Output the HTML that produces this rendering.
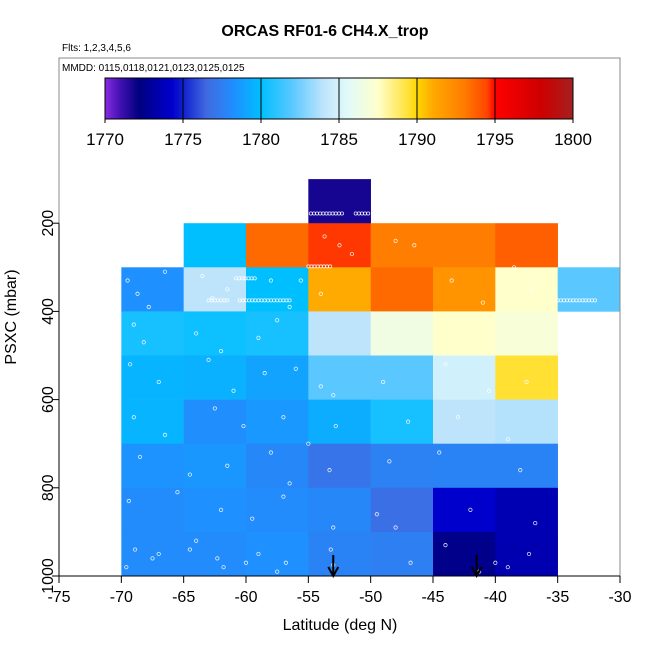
<!DOCTYPE html>
<html><head><meta charset="utf-8"><style>
body{margin:0;background:#fff;}
svg{display:block;font-family:"Liberation Sans",Arial,sans-serif;}
</style></head><body>
<svg id="chart" width="650" height="650" viewBox="0 0 650 650" xmlns="http://www.w3.org/2000/svg">
<text x="325" y="36" text-anchor="middle" font-size="16" font-weight="bold">ORCAS RF01-6 CH4.X_trop</text>
<text x="62" y="51" font-size="10">Flts: 1,2,3,4,5,6</text>
<g id="cells"></g>
<g id="pts"></g>
<rect x="59" y="58" width="561" height="518" fill="none" stroke="#888" stroke-width="1"/>
<text x="62" y="71" font-size="10">MMDD: 0115,0118,0121,0123,0125,0125</text>
<g id="cbar"></g>
<g id="axes"></g>
<text x="340" y="630" text-anchor="middle" font-size="16">Latitude (deg N)</text>
<text transform="translate(16,317) rotate(-90)" text-anchor="middle" font-size="16">PSXC (mbar)</text>
</svg>
<script>
const latBins=[-70,-65,-60,-55,-50,-45,-40,-35];
const presBins=[100,200,300,400,500,600,700,800,900];
// values[row][col], rows follow presBins, cols follow latBins; null = no data
const row100=[null,null,null,1771.8,null,null,null,null];
const row200=[null,1780,1793.5,1794.6,1793,1793,1793.8,null];
const row300=[1778.3,1784,1780,1791,1793.5,1792,1787.5,1782];
const row400=[1780.5,1780.3,1780.5,1784,1786.5,1787.5,1787,null];
const row500=[1779.6,1779.5,1779,1782,1782,1784.8,1789.5,null];
const row600=[1779.6,1778.2,1778.6,1779.3,1780.5,1784,1783.8,null];
const row700=[1778.4,1778.5,1777.9,1777,1777.6,1777.7,1777.7,null];
const row800=[1778.1,1778.3,1778.1,1777.9,1776.8,1774.3,1773.6,null];
const row900=[1778.1,1778.1,1778.3,1777.7,1777.5,1772.5,1773.5,null];
const values=[row100,row200,row300,row400,row500,row600,row700,row800,row900];
const xTicks=[-75,-70,-65,-60,-55,-50,-45,-40,-35,-30];
const yTicks=[200,400,600,800,1000];
const cbTicks=[1770,1775,1780,1785,1790,1795,1800];
const arrowLats=[-53,-41.5];
const ptLat=[-69.5,-68.7,-67.8,-69,-66.5,-68.2,-63.5,-62.7,-61.5,-64,-62,-58,-56.5,-57.5,-59,-55.6,-54,-52.5,-53.7,-51.5,-48,-46.5,-43.5,-41,-38.5,-37,-69.3,-67,-63,-61,-58.5,-56,-54,-53,-49,-44,-40.5,-37.5,-69,-66.5,-62.5,-60.2,-57,-55,-52.8,-47,-43,-39,-68.5,-64.5,-61.5,-58,-56.5,-53.3,-48.5,-44.5,-38,-69.4,-65.5,-62,-59.5,-57,-53,-49.5,-42,-36.8,-68.9,-67.5,-64,-61.8,-59,-56.8,-53.2,-46.8,-41.3,-39,-69.6,-67,-64.5,-62.3,-60,-57.5,-53,-48,-44,-40,-37.3];
const ptPres=[330,360,390,430,310,470,320,370,350,450,490,330,390,420,460,330,360,250,230,270,240,250,330,380,300,350,520,560,510,580,540,530,570,590,560,520,580,560,640,680,620,660,640,700,660,650,640,690,730,770,750,720,790,760,740,720,760,830,810,850,870,820,890,860,850,880,940,960,920,980,950,970,940,970,990,980,980,950,940,960,970,990,975,890,930,970,950];
const lineLat=[[-54.8,-52.3],[-51.2,-50],[-63,-61.5],[-60.5,-58.6],[-58.5,-56.5],[-60.8,-59.2],[-55,-53.2],[-35,-32]];
const linePres=[178,178,375,375,375,325,298,375];

const NS='http://www.w3.org/2000/svg';
const X0=59,X1=620,xMin=-75,xMax=-30;
const xs=v=>X0+(v-xMin)*(X1-X0)/(xMax-xMin);
const ys=p=>576-(1000-p)*0.441;
const stops=[[1770,[138,43,226]],[1771,[64,16,176]],[1772.2,[0,0,128]],[1774.3,[0,0,205]],[1775,[16,32,204]],[1776.5,[65,105,225]],[1778.3,[30,144,255]],[1780,[0,191,255]],[1782,[90,200,255]],[1784,[190,228,252]],[1785.5,[224,250,250]],[1787.5,[255,255,204]],[1789.5,[255,224,51]],[1790,[255,215,0]],[1791,[255,170,0]],[1793,[255,125,0]],[1794.5,[255,69,0]],[1795,[255,0,0]],[1798,[205,0,0]],[1800,[165,32,32]]];
function col(v){
  if(v<=stops[0][0])return 'rgb('+stops[0][1]+')';
  for(let i=1;i<stops.length;i++){if(v<=stops[i][0]){const a=stops[i-1],b=stops[i],t=(v-a[0])/(b[0]-a[0]);
    return 'rgb('+a[1].map((c,k)=>Math.round(c+(b[1][k]-c)*t)).join(',')+')';}}
  return 'rgb('+stops[stops.length-1][1]+')';
}
function mk(tag,attrs,parent){const e=document.createElementNS(NS,tag);for(const k in attrs)e.setAttribute(k,attrs[k]);parent.appendChild(e);return e;}
const cells=document.getElementById('cells');
values.forEach((row,r)=>row.forEach((v,c)=>{
  if(v===null)return;
  const p=presBins[r],x=xs(latBins[c]);
  const e=mk('rect',{x:x,y:ys(p),width:xs(latBins[c]+5)-x+0.3,height:ys(p+100)-ys(p)+0.3,fill:col(v)},cells);
  
  
}));
const pts=document.getElementById('pts');
ptLat.forEach((la,i)=>{
  const e=mk('circle',{cx:xs(la),cy:ys(ptPres[i]),r:1.7,fill:'none',stroke:'#fff','stroke-width':0.8,opacity:0.85},pts);
  
  
});
lineLat.forEach((seg,i)=>{
  for(let la=seg[0];la<=seg[1];la+=0.25){
    const e=mk('circle',{cx:xs(la),cy:ys(linePres[i]),r:1.6,fill:'none',stroke:'#fff','stroke-width':0.8,opacity:0.85},pts);
    
    
  }
});
// colorbar
const cb=document.getElementById('cbar');
const cbX0=105,cbX1=573,cbY=78,cbH=41,cbMin=1770,cbMax=1800;
const cx=v=>cbX0+(v-cbMin)*(cbX1-cbX0)/(cbMax-cbMin);
const defs=mk('defs',{},cb);
const lg=mk('linearGradient',{id:'g',x1:0,x2:1,y1:0,y2:0},defs);
stops.forEach(s=>mk('stop',{offset:(s[0]-cbMin)/(cbMax-cbMin),'stop-color':col(s[0])},lg));
mk('rect',{x:cbX0,y:cbY,width:cbX1-cbX0,height:cbH,fill:'url(#g)',stroke:'#000','stroke-width':1},cb);
cbTicks.forEach(t=>{
  mk('line',{x1:cx(t),x2:cx(t),y1:cbY,y2:cbY+cbH+4,stroke:'#000','stroke-width':1},cb);
  const e=mk('text',{x:cx(t),y:145,'text-anchor':'middle','font-size':17},cb);e.textContent=t;
  
  
});
// axes
const ax=document.getElementById('axes');
mk('line',{x1:X0,x2:X1,y1:576,y2:576,stroke:'#000','stroke-width':1},ax);
mk('line',{x1:X0,x2:X0,y1:ys(200),y2:ys(1000),stroke:'#000','stroke-width':1},ax);
xTicks.forEach(t=>{
  mk('line',{x1:xs(t),x2:xs(t),y1:576,y2:583,stroke:'#000'},ax);
  const e=mk('text',{x:xs(t),y:602,'text-anchor':'middle','font-size':16},ax);e.textContent=t;
  
  
});
yTicks.forEach(t=>{
  mk('line',{x1:X0,x2:X0-7,y1:ys(t),y2:ys(t),stroke:'#000'},ax);
  const e=mk('text',{transform:'translate(53,'+ys(t)+') rotate(-90)','text-anchor':'middle','font-size':16},ax);e.textContent=t;
  
  
});
arrowLats.forEach(la=>{
  const x=xs(la);
  const g=mk('g',{},ax);
  
  
  mk('line',{x1:x,x2:x,y1:555,y2:576,stroke:'#000','stroke-width':2},g);
  mk('polyline',{points:(x-5)+',567 '+x+',576 '+(x+5)+',567',fill:'none',stroke:'#000','stroke-width':2},g);
});
</script>
</body></html>
